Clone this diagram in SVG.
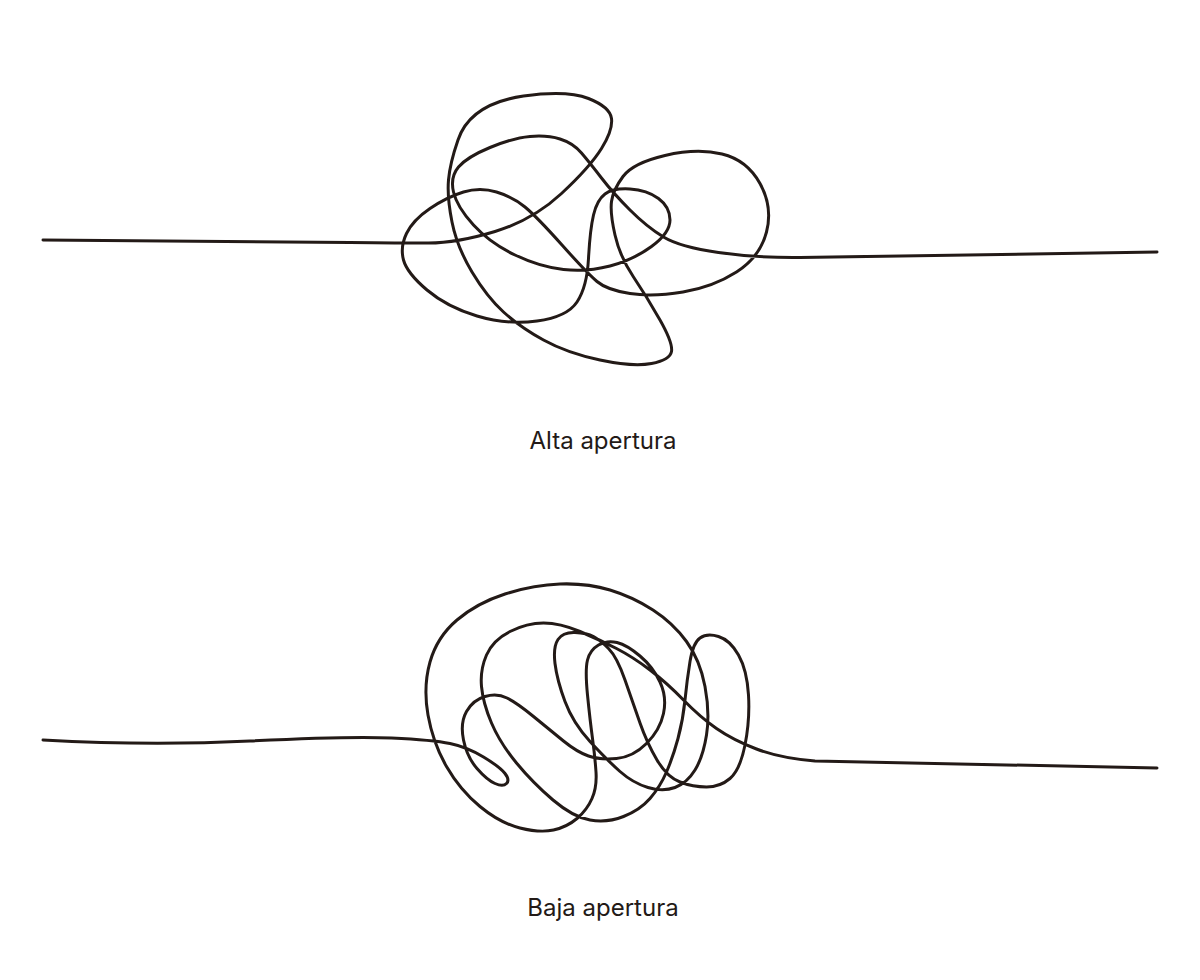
<svg xmlns="http://www.w3.org/2000/svg" width="1200" height="980" viewBox="0 0 1200 980">
<style>
.c{fill:none;stroke:#231a17;stroke-width:3;stroke-linecap:round;stroke-linejoin:round}
.t{font-family:Inter,"Liberation Sans",sans-serif;font-size:24px;fill:#231a17;text-anchor:middle}
</style>
<rect width="1200" height="980" fill="#fff"/>
<g id="alta">
<path class="c" d="M43,240 L350,242.5 Q400,243 428.5,243 Q457,243 495,231.5 Q533,220 561.5,193.5 Q590,167 601.5,148.5 Q613,130 611.5,118.5 Q610,107 588.5,98.5 Q567,90 523.5,96 Q470,104 458,140 Q450,163 448.5,180 Q447,197 452,222 Q457,247 472,272 Q487,297 503.5,312 Q520,327 543.5,340 Q567,353 600,360 Q633,367 651.5,363.5 Q670,360 671.5,351.5 Q673,343 660,320 Q647,297 633.5,277 Q620,257 615,235 Q610,213 611.5,201.5 Q613,190 623,176.5 Q633,163 665,155.5 Q697,148 722,154 Q747,160 760,183.5 Q773,207 766.5,232 Q760,257 736.5,272 Q713,287 683,292 Q653,297 630,293.5 Q607,290 597,281.5 Q587,273 562,245 Q537,217 525,207 Q513,197 496.5,192 Q480,187 463.5,192 Q447,197 430,208.5 Q413,220 406.5,233.5 Q400,247 403.5,260 Q407,273 427,290 Q447,307 477,316 Q507,325 537,321 Q567,317 577,302 Q587,287 588.5,258.5 Q590,230 593.5,215 Q597,200 605,194 Q613,188 630,189 Q647,190 658.5,198.5 Q670,207 670,220 Q670,233 651.5,246.5 Q633,260 610,266 Q587,272 563.5,269.5 Q540,267 515,255 Q490,243 473.5,225 Q457,207 453.5,192 Q450,177 458.5,167 Q467,157 490,147.5 Q513,138 530,136.5 Q547,135 560,139 Q573,143 581.5,153 Q590,163 601.5,178 Q613,193 630,210 Q647,227 663.5,237 Q680,247 718.5,252.5 Q757,258 800,257.5 L1157,252"/>
<text class="t" x="603" y="449">Alta apertura</text>
</g>
<g id="baja">
<path class="c" d="M43,740 Q150,746 250,741 Q350,736 391.5,738 Q433,740 450,743.5 Q467,747 483.5,757 Q500,767 505,773.5 Q510,780 506.5,783.5 Q503,787 495,783.5 Q487,780 477,768.5 Q467,757 463.5,740 Q460,723 466.5,711.5 Q473,700 485,696.5 Q497,693 507,698 Q517,703 533.5,716.5 Q550,730 563.5,741 Q577,752 588.5,756 Q600,760 616.5,758.5 Q633,757 646.5,743.5 Q660,730 663.5,713.5 Q667,697 660,682 Q653,667 640,656 Q627,645 617,642.5 Q607,640 598.5,645 Q590,650 587.5,660 Q585,670 587.5,695 Q590,720 592.5,738.5 Q595,757 596,772 Q597,787 592,798.5 Q587,810 577,818.5 Q567,827 553.5,830 Q540,833 520,828 Q500,823 480,806.5 Q460,790 446.5,766.5 Q433,743 428,715 Q423,687 430,662 Q437,637 457,620 Q477,603 505,594 Q533,585 560,584 Q587,583 610,590 Q633,597 653,610 Q673,623 686.5,641.5 Q700,660 705,686.5 Q710,713 706.5,735 Q703,757 695,770 Q687,783 675,787.5 Q663,792 648,787.5 Q633,783 620,771.5 Q607,760 590,741.5 Q573,723 565,701.5 Q557,680 555,663.5 Q553,647 558,639.5 Q563,632 575,632.5 Q587,633 593.5,636.5 Q600,640 608.5,648.5 Q617,657 625,680 Q633,703 640,723 Q647,743 657,760 Q667,777 680,782 Q693,787 706.5,787 Q720,787 730,778.5 Q740,770 745,745 Q750,720 748.5,695 Q747,670 738.5,655 Q730,640 718.5,636.5 Q707,633 700,638 Q693,643 690,661.5 Q687,680 685,700 Q683,720 678,738.5 Q673,757 666.5,772 Q660,787 650,798.5 Q640,810 623.5,816.5 Q607,823 590,820 Q573,817 553,800 Q533,783 516.5,763 Q500,743 491.5,723 Q483,703 481.5,686.5 Q480,670 486.5,655 Q493,640 510,631.5 Q527,623 543.5,623 Q560,623 580,631.5 Q600,640 616.5,648.5 Q633,657 650,670 Q667,683 683.5,700 Q700,717 716.5,728.5 Q733,740 756.5,749 Q780,758 815,761 L1157,768"/>
<text class="t" x="603" y="916">Baja apertura</text>
</g>
</svg>
